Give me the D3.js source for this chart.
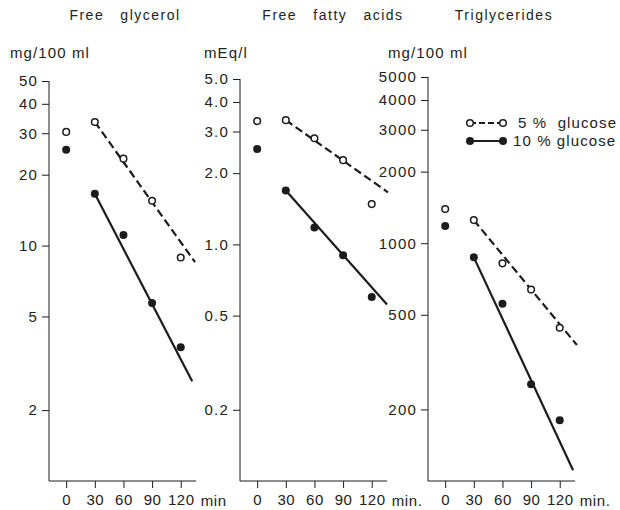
<!DOCTYPE html>
<html>
<head>
<meta charset="utf-8">
<script src="https://cdn.jsdelivr.net/npm/d3@7"></script>
<style>
  body { margin: 0; background: #fff; }
  text { font-family: "Liberation Sans", Arial, sans-serif; fill: #222; }
</style>
</head>
<body>
<svg></svg>
<script>
const width = 620;
const height = 510;

// chart data
const titles = ["Free   glycerol", "Free   fatty   acids", "Triglycerides"];
const units = ["mg/100 ml", "mEq/l", "mg/100 ml"];
const minLabels = ["min", "min.", "min."];
const times = [0, 30, 60, 90, 120];
const xTicks = [0, 30, 60, 90, 120];

const glycerol5 = [30.4, 33.5, 23.4, 15.5, 8.9];
const glycerol10 = [25.5, 16.6, 11.1, 5.7, 3.7];
const ffa5 = [3.32, 3.35, 2.81, 2.27, 1.48];
const ffa10 = [2.53, 1.69, 1.18, 0.90, 0.60];
const tg5 = [1393, 1251, 823, 638, 441];
const tg10 = [1180, 872, 557, 255, 180];

// regression lines [time, value] from start to end
const glycerol5Fit = [[30, 33.5], [135, 8.5]];
const glycerol10Fit = [[30, 16.6], [132, 2.65]];
const ffa5Fit = [[30, 3.35], [137, 1.66]];
const ffa10Fit = [[30, 1.69], [136, 0.557]];
const tg5Fit = [[30, 1251], [138, 373]];
const tg10Fit = [[30, 872], [134, 111]];

const glycerolTicks = [2, 5, 10, 20, 30, 40, 50];
const ffaTicks = [0.2, 0.5, 1.0, 2.0, 3.0, 4.0, 5.0];
const tgTicks = [200, 500, 1000, 2000, 3000, 4000, 5000];

const legendLabels = ["5 %  glucose", "10 % glucose"];

const panels = [
    { domain: [1, 50], ticks: glycerolTicks, fmt: d3.format("d"), s5: glycerol5, s10: glycerol10, f5: glycerol5Fit, f10: glycerol10Fit },
    { domain: [0.1, 5], ticks: ffaTicks, fmt: d3.format(".1f"), s5: ffa5, s10: ffa10, f5: ffa5Fit, f10: ffa10Fit },
    { domain: [100, 5000], ticks: tgTicks, fmt: d3.format("d"), s5: tg5, s10: tg10, f5: tg5Fit, f10: tg10Fit }
];

// layout
const axisLeft = [49, 240, 428];
const axisTop = [81, 79, 77];
const plotW = 147;
const bottom = 481;

const svg = d3.select("svg")
    .attr("width", width)
    .attr("height", height);

const ink = "#1c1c1c";

panels.forEach((p, i) => {
    const g = svg.append("g").attr("transform", `translate(${axisLeft[i]},0)`);

    const x = d3.scaleLinear().domain([-18, 136]).range([0, plotW]);
    const y = d3.scaleLog().domain(p.domain).range([bottom, axisTop[i]]);

    // title and unit
    const cx = [125, 333, 504][i] - axisLeft[i];
    g.append("text")
        .attr("x", cx).attr("y", 20)
        .attr("text-anchor", "middle")
        .attr("font-size", 14)
        .attr("letter-spacing", 1.5)
        .style("white-space", "pre")
        .text(titles[i]);

    g.append("text")
        .attr("x", [10, 204, 388][i] - axisLeft[i]).attr("y", 58)
        .attr("font-size", 15)
        .attr("letter-spacing", 1.1)
        .text(units[i]);

    // y axis
    const yAxis = g.append("g")
        .call(d3.axisLeft(y).tickValues(p.ticks).tickFormat(p.fmt).tickSize(7).tickPadding(4));
    yAxis.select(".domain").attr("d", `M0,${axisTop[i]}V${bottom}`).attr("stroke", ink);
    yAxis.selectAll(".tick line").attr("stroke", ink);
    yAxis.selectAll(".tick text")
        .attr("font-size", 15)
        .attr("letter-spacing", 1.2)
        .attr("font-family", "Liberation Sans, Arial, sans-serif")
        .attr("fill", ink);

    // x axis
    const xAxis = g.append("g")
        .attr("transform", `translate(0,${bottom})`)
        .call(d3.axisBottom(x).tickValues(xTicks).tickSize(7).tickPadding(6));
    xAxis.select(".domain").attr("d", `M0,0H${plotW}`).attr("stroke", ink);
    xAxis.selectAll(".tick line").attr("stroke", ink);
    xAxis.selectAll(".tick text")
        .attr("font-size", 15)
        .attr("letter-spacing", 0.5)
        .attr("font-family", "Liberation Sans, Arial, sans-serif")
        .attr("fill", ink);

    g.append("text")
        .attr("x", x(120) + 20).attr("y", 506)
        .attr("font-size", 15)
        .attr("letter-spacing", 0.6)
        .text(minLabels[i]);

    // fit lines
    const line = d3.line().x(d => x(d[0])).y(d => y(d[1]));
    g.append("path").datum(p.f5)
        .attr("d", line)
        .attr("fill", "none").attr("stroke", ink)
        .attr("stroke-width", 2.2).attr("stroke-dasharray", "8,4");
    g.append("path").datum(p.f10)
        .attr("d", line)
        .attr("fill", "none").attr("stroke", ink)
        .attr("stroke-width", 2.2);

    // points
    g.selectAll(".open").data(times.map((t, j) => [t, p.s5[j]]))
        .enter().append("circle")
        .attr("cx", d => x(d[0])).attr("cy", d => y(d[1]))
        .attr("r", 3.3)
        .attr("fill", "#fff").attr("stroke", ink).attr("stroke-width", 1.5);
    g.selectAll(".filled").data(times.map((t, j) => [t, p.s10[j]]))
        .enter().append("circle")
        .attr("cx", d => x(d[0])).attr("cy", d => y(d[1]))
        .attr("r", 4)
        .attr("fill", ink);
});

// legend
const legend = svg.append("g").attr("transform", "translate(470,123)");
legendLabels.forEach((label, i) => {
    const row = legend.append("g").attr("transform", `translate(0,${i * 18})`);
    row.append("line")
        .attr("x1", 0).attr("x2", 33)
        .attr("stroke", ink).attr("stroke-width", 2.2)
        .attr("stroke-dasharray", i === 0 ? "6,3" : null);
    [0, 33].forEach(cx => {
        row.append("circle")
            .attr("cx", cx).attr("r", i === 0 ? 3.3 : 4)
            .attr("fill", i === 0 ? "#fff" : ink)
            .attr("stroke", ink).attr("stroke-width", i === 0 ? 1.5 : 0);
    });
    row.append("text")
        .attr("x", i === 0 ? 48 : 43).attr("y", 5)
        .attr("font-size", 15)
        .attr("letter-spacing", 1.1)
        .style("white-space", "pre")
        .text(label);
});
</script>
</body>
</html>
